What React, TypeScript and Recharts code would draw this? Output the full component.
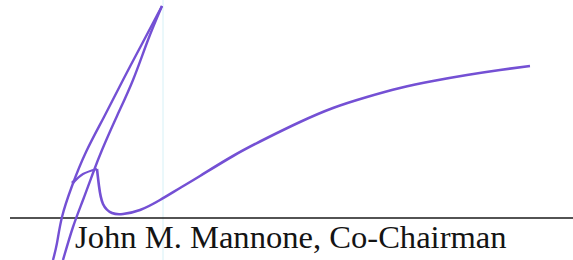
import { LineChart, Line, XAxis, YAxis, ReferenceLine, ReferenceDot } from "recharts";

// pen strokes (x px, y px from top)
const leftStroke = [
  { x: 53, y: 260 },
  { x: 57, y: 243 },
  { x: 62, y: 217 },
  { x: 72, y: 186 },
  { x: 86, y: 152 },
  { x: 104, y: 117 },
  { x: 123, y: 80 },
  { x: 143, y: 42 },
  { x: 162, y: 6 },
];

const rightStroke = [
  { x: 162, y: 6 },
  { x: 148, y: 40 },
  { x: 133, y: 80 },
  { x: 117, y: 116 },
  { x: 102, y: 150 },
  { x: 93, y: 173 },
  { x: 83, y: 200 },
  { x: 73, y: 227 },
  { x: 63, y: 260 },
];

const hookStroke = [
  { x: 73, y: 183 },
  { x: 83, y: 174 },
  { x: 97, y: 169 },
];

const tailStroke = [
  { x: 97, y: 169 },
  { x: 99, y: 186 },
  { x: 103, y: 204 },
  { x: 112, y: 213 },
  { x: 123, y: 214 },
  { x: 140, y: 210 },
  { x: 160, y: 200 },
  { x: 180, y: 188 },
  { x: 200, y: 176 },
  { x: 233, y: 156 },
  { x: 267, y: 138 },
  { x: 300, y: 122 },
  { x: 333, y: 108 },
  { x: 367, y: 97 },
  { x: 400, y: 88 },
  { x: 433, y: 81 },
  { x: 467, y: 75 },
  { x: 500, y: 70 },
  { x: 530, y: 66 },
];

const signatureLineY = 218;
const signatureLineStart = 10;
const caption = "John M. Mannone, Co-Chairman";

const ink = "#7450d4";

const Caption = (props: any) => {
  const vb = props.viewBox || { x: signatureLineStart, y: signatureLineY };
  return (
    <text
      x={vb.x + 65}
      y={vb.y + 30}
      fill="#141414"
      fontFamily="'Liberation Serif', 'Times New Roman', serif"
      fontSize={32.6}
    >
      {caption}
    </text>
  );
};

const strokeProps = {
  dataKey: "y",
  type: "natural" as const,
  stroke: ink,
  dot: false,
  activeDot: false,
  legendType: "none" as const,
  isAnimationActive: false,
};

export default function App() {
  return (
    <div style={{ position: "fixed", left: 0, top: 0, background: "#fff" }}>
      <LineChart width={573} height={260} margin={{ top: 0, right: 0, bottom: 0, left: 0 }}>
        <XAxis type="number" dataKey="x" domain={[0, 573]} hide allowDataOverflow />
        <YAxis type="number" dataKey="y" domain={[0, 260]} reversed hide allowDataOverflow />
        <ReferenceLine x={163} stroke="#d6f1f7" strokeWidth={1} />
        <ReferenceLine
          segment={[
            { x: signatureLineStart, y: signatureLineY },
            { x: 573, y: signatureLineY },
          ]}
          stroke="#1a1a1a"
          strokeWidth={1.6}
          label={<Caption />}
        />
        <Line {...strokeProps} data={leftStroke} strokeWidth={2.4} />
        <Line {...strokeProps} data={rightStroke} strokeWidth={2.4} />
        <Line {...strokeProps} data={hookStroke} strokeWidth={2.2} />
        <Line {...strokeProps} data={tailStroke} strokeWidth={2.6} />
        <ReferenceDot x={73} y={182} r={1.6} fill={ink} stroke="none" />
      </LineChart>
    </div>
  );
}
